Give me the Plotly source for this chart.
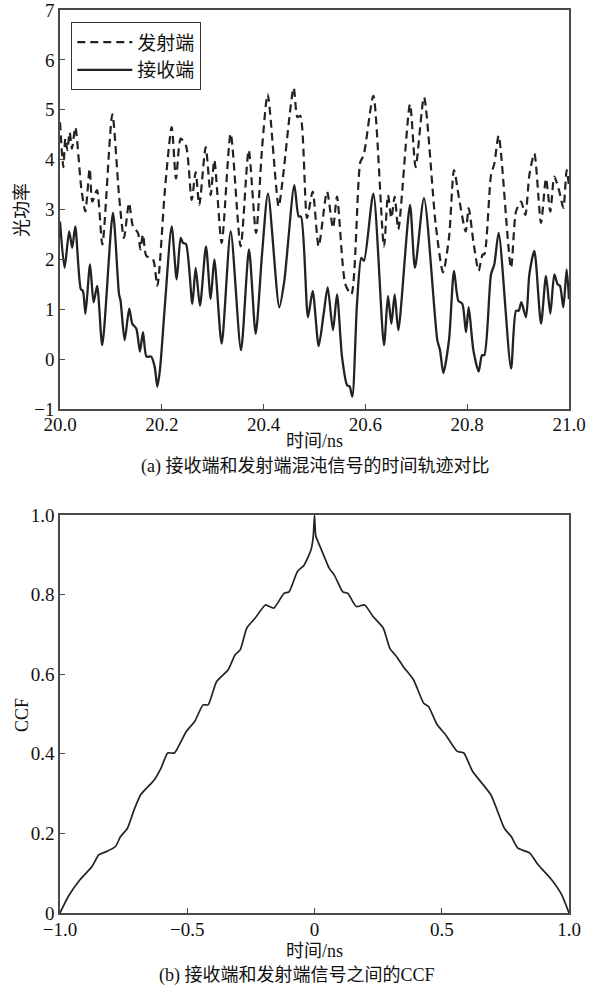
import plotly.graph_objects as go

# ---- (a) time traces ----
t_tx = [20.000, 20.0066, 20.0105, 20.0144, 20.0190, 20.0236, 20.0301, 20.0419, 20.0498, 20.0583,
        20.0635, 20.0727, 20.0832, 20.1028, 20.1159, 20.1257, 20.1356, 20.1434, 20.1532, 20.1578,
        20.1631, 20.1696, 20.1827, 20.1912, 20.2063, 20.2194, 20.2279, 20.2371, 20.2475, 20.2587,
        20.2665, 20.2737, 20.2862, 20.2960, 20.3032, 20.3176, 20.3353, 20.3549, 20.3707, 20.3851,
        20.3969, 20.4080, 20.4296, 20.4377, 20.4591, 20.4665, 20.4722, 20.4853, 20.4964, 20.5082,
        20.5246, 20.5363, 20.5442, 20.5606, 20.5724, 20.5900, 20.5966, 20.6156, 20.6365, 20.6444,
        20.6510, 20.6575, 20.6647, 20.6876, 20.6987, 20.7151, 20.7381, 20.7525, 20.7642, 20.7741,
        20.7839, 20.7970, 20.8029, 20.8121, 20.8225, 20.8304, 20.8337, 20.8468, 20.8533, 20.8618,
        20.8861, 20.8959, 20.9057, 20.9142, 20.9221, 20.9319, 20.9450, 20.9548, 20.9633, 20.9712,
        20.9810, 20.9889, 20.9954, 21.000]
p_tx = [4.75, 3.85, 4.42, 4.19, 4.55, 4.22, 4.65, 3.42, 2.96, 3.82,
        3.16, 3.39, 2.30, 4.91, 3.29, 2.43, 3.13, 2.66, 2.53, 2.20,
        2.50, 2.07, 2.00, 1.47, 3.42, 4.65, 3.62, 4.42, 4.28, 3.19,
        3.75, 3.09, 4.25, 3.29, 3.99, 2.33, 4.52, 2.26, 4.19, 2.53,
        4.22, 5.31, 3.06, 3.62, 5.44, 4.85, 4.88, 2.83, 3.36, 2.26,
        3.36, 2.63, 3.26, 1.50, 1.30, 3.95, 4.09, 5.28, 2.26, 3.29,
        2.83, 3.26, 2.60, 5.11, 3.85, 5.25, 2.70, 1.74, 2.43, 3.79,
        3.23, 2.56, 3.03, 2.36, 1.77, 2.10, 2.10, 3.69, 3.92, 4.48,
        1.83, 2.96, 3.16, 2.89, 3.69, 4.12, 2.73, 3.62, 2.96, 3.66,
        3.36, 3.03, 3.79, 3.46]

t_rx = [20.000, 20.009, 20.018, 20.024, 20.030, 20.041, 20.045, 20.050, 20.059, 20.066,
        20.073, 20.083, 20.104, 20.116, 20.119, 20.127, 20.136, 20.142, 20.150, 20.157,
        20.163, 20.170, 20.179, 20.186, 20.1912, 20.1965, 20.2063, 20.2194, 20.2292, 20.2371,
        20.2417, 20.2475, 20.2600, 20.2665, 20.2750, 20.2868, 20.2960, 20.3032, 20.3176, 20.3353,
        20.3556, 20.3713, 20.3844, 20.3969, 20.4086, 20.4309, 20.4407, 20.4604, 20.4689, 20.4735,
        20.4872, 20.4964, 20.5082, 20.5180, 20.5259, 20.5363, 20.5442, 20.5540, 20.5639, 20.5691,
        20.5743, 20.5835, 20.5920, 20.5972, 20.6156, 20.6365, 20.6444, 20.6510, 20.6575, 20.6647,
        20.6876, 20.6974, 20.7151, 20.7413, 20.7466, 20.7531, 20.7642, 20.7741, 20.7826, 20.7904,
        20.7976, 20.8029, 20.8121, 20.8225, 20.8291, 20.8337, 20.8468, 20.8533, 20.8618, 20.8861,
        20.8959, 20.9011, 20.9064, 20.9155, 20.9221, 20.9319, 20.9450, 20.9548, 20.9633, 20.9712,
        20.9777, 20.9823, 20.9889, 20.9954, 21.000]
p_rx = [2.76, 1.83, 2.56, 2.23, 2.66, 1.40, 1.37, 0.91, 1.90, 1.14,
        1.47, 0.28, 2.93, 1.30, 1.17, 0.38, 1.01, 0.71, 0.61, 0.15,
        0.54, 0.05, 0.05, -0.15, -0.55, -0.20, 1.11, 2.66, 1.60, 2.43,
        2.33, 2.31, 1.11, 1.83, 1.07, 2.26, 1.21, 2.00, 0.31, 2.56,
        0.18, 2.20, 0.51, 2.10, 3.32, 1.04, 1.57, 3.49, 2.86, 2.86,
        0.84, 1.37, 0.26, 0.91, 1.44, 0.58, 1.30, 0.05, -0.52, -0.55,
        -0.75, 1.11, 2.03, 1.97, 3.32, 0.28, 1.27, 0.71, 1.30, 0.58,
        3.09, 1.83, 3.23, 0.38, 0.18, -0.28, 0.38, 1.77, 1.17, 1.11,
        0.54, 1.04, 0.18, -0.25, 0.08, 0.08, 1.70, 1.90, 2.53, -0.19,
        0.97, 0.97, 1.14, 0.84, 1.70, 2.17, 0.71, 1.67, 0.91, 1.70,
        1.50, 1.47, 1.04, 1.80, 1.20]

# ---- (b) CCF ----
lag = [-1.0, -0.967, -0.921, -0.874, -0.848, -0.815, -0.782, -0.762, -0.735, -0.709,
       -0.683, -0.629, -0.603, -0.577, -0.55, -0.504, -0.471, -0.438, -0.418, -0.385,
       -0.339, -0.312, -0.292, -0.266, -0.233, -0.193, -0.16, -0.12, -0.10, -0.067,
       -0.041, -0.014, -0.005, 0.0, 0.005, 0.025, 0.058, 0.078, 0.111, 0.131,
       0.164, 0.197, 0.23, 0.27, 0.296, 0.323, 0.349, 0.389, 0.429, 0.448,
       0.482, 0.515, 0.561, 0.587, 0.621, 0.693, 0.746, 0.773, 0.799, 0.845,
       0.879, 0.931, 0.971, 1.0]
ccf = [0.0, 0.042, 0.084, 0.117, 0.146, 0.155, 0.167, 0.192, 0.213, 0.259,
       0.297, 0.335, 0.364, 0.402, 0.402, 0.456, 0.481, 0.523, 0.523, 0.581,
       0.611, 0.649, 0.661, 0.716, 0.741, 0.774, 0.766, 0.803, 0.807, 0.858,
       0.874, 0.912, 0.945, 1.0, 0.948, 0.916, 0.866, 0.849, 0.807, 0.803,
       0.770, 0.774, 0.745, 0.716, 0.665, 0.644, 0.619, 0.586, 0.527, 0.519,
       0.473, 0.448, 0.406, 0.402, 0.356, 0.297, 0.213, 0.192, 0.163, 0.151,
       0.121, 0.084, 0.046, 0.0]

xt_a = [20.0, 20.2, 20.4, 20.6, 20.8, 21.0]
xt_a_txt = ["20.0", "20.2", "20.4", "20.6", "20.8", "21.0"]
yt_a = [-1, 0, 1, 2, 3, 4, 5, 6, 7]
yt_a_txt = ["\u22121", "0", "1", "2", "3", "4", "5", "6", "7"]
xt_b = [-1.0, -0.5, 0, 0.5, 1.0]
xt_b_txt = ["\u22121.0", "\u22120.5", "0", "0.5", "1.0"]
yt_b = [0, 0.2, 0.4, 0.6, 0.8, 1.0]
yt_b_txt = ["0", "0.2", "0.4", "0.6", "0.8", "1.0"]

FONT = "Liberation Serif, Noto Sans CJK SC, serif"
LC = "#222222"
AX = "#4a4a4a"

fig = go.Figure()
fig.add_trace(go.Scatter(x=t_tx, y=p_tx, mode="lines", name="发射端",
                         line=dict(color=LC, width=2.2, dash="8px,5px", shape="spline", smoothing=0.7),
                         xaxis="x", yaxis="y"))
fig.add_trace(go.Scatter(x=t_rx, y=p_rx, mode="lines", name="接收端",
                         line=dict(color=LC, width=2.3, shape="spline", smoothing=0.7),
                         xaxis="x", yaxis="y"))
fig.add_trace(go.Scatter(x=lag, y=ccf, mode="lines", showlegend=False,
                         line=dict(color=LC, width=1.7, shape="spline", smoothing=0.5),
                         xaxis="x2", yaxis="y2"))

TOP = 10
BOT = 82
H_PLOT = 995 - TOP - BOT


def py2paper(py):
    return (995 - BOT - py) / H_PLOT


common = dict(showgrid=False, zeroline=False, showline=True, linecolor=AX, linewidth=1.6,
              mirror=True, ticks="inside", ticklen=5, tickwidth=1.2, tickcolor=AX,
              automargin=False, ticklabeloverflow="allow",
              tickfont=dict(family=FONT, size=19, color="#111"))

fig.update_layout(
    template="none",
    width=593, height=995,
    margin=dict(l=60, r=24, t=TOP, b=BOT),
    paper_bgcolor="white", plot_bgcolor="white",
    font=dict(family=FONT, color="#111"),
    xaxis=dict(domain=[0, 1], range=[20.0, 21.0], tickvals=xt_a, ticktext=xt_a_txt,
               anchor="y", ticklabelstandoff=-3, **common),
    yaxis=dict(domain=[py2paper(409), 1.0], range=[-1, 7], tickvals=yt_a, ticktext=yt_a_txt,
               anchor="x", **common),
    xaxis2=dict(domain=[0, 1], range=[-1.0, 1.0], tickvals=xt_b, ticktext=xt_b_txt,
                anchor="y2", ticklabelstandoff=-2, **common),
    yaxis2=dict(domain=[0, py2paper(515)], range=[0, 1.0], tickvals=yt_b, ticktext=yt_b_txt,
                anchor="x2", **common),
    legend=dict(x=(71 - 60) / 509, y=py2paper(22), xanchor="left", yanchor="top",
                bordercolor="#333", borderwidth=1.3, bgcolor="white",
                font=dict(family=FONT, size=19, color="#111"), tracegroupgap=0,
                itemwidth=55),
    showlegend=True,
)

ann = [
    dict(text="时间/ns", x=0.5, y=py2paper(441), angle=0),
    dict(text="(a) 接收端和发射端混沌信号的时间轨迹对比", x=(315 - 60) / 509, y=py2paper(466), angle=0),
    dict(text="时间/ns", x=0.5, y=py2paper(951), angle=0),
    dict(text="(b) 接收端和发射端信号之间的CCF", x=(297 - 60) / 509, y=py2paper(976), angle=0),
    dict(text="光功率", x=(22 - 60) / 509, y=py2paper(210), angle=-90),
    dict(text="CCF", x=(22 - 60) / 509, y=py2paper(715), angle=-90),
]
for a in ann:
    fig.add_annotation(text=a["text"], x=a["x"], y=a["y"], xref="paper", yref="paper",
                       showarrow=False, xanchor="center", yanchor="middle", textangle=a["angle"],
                       font=dict(family=FONT, size=18, color="#111"))

fig.write_html("out.html", config={"displayModeBar": False},
               post_script="document.body.style.margin='0';document.body.style.overflow='hidden';")
